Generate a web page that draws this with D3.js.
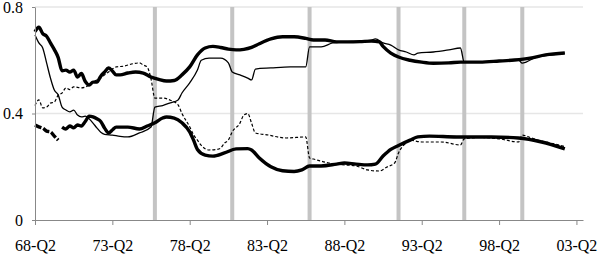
<!DOCTYPE html>
<html>
<head>
<meta charset="utf-8">
<script src="https://cdn.jsdelivr.net/npm/d3@7"></script>
<style>
  body { margin: 0; background: #fff; }
  svg { display: block; }
  .axis path, .axis line { stroke: #888; }
</style>
</head>
<body>
<div class="graphic"></div>
<script>
// quarter index counted from 68-Q2
var tickQuarters = [0, 20, 40, 60, 80, 100, 120, 140];
var tickLabels = ["68-Q2", "73-Q2", "78-Q2", "83-Q2", "88-Q2", "93-Q2", "98-Q2", "03-Q2"];
var yTicks = [0, 0.4, 0.8];
var breakQuarters = [31, 51, 71, 94, 111, 126];

// thick solid, upper
var thickUpper = [[0,.707],[1,.724],[2,.700],[3,.690],[4,.665],[5,.640],[6,.610],[7,.560],[8,.563],[9,.556],
  [10,.563],[11,.537],[12,.550],[13,.520],[14,.507],[15,.518],[16,.518],[17,.540],[18,.556],[19,.571],[20,.560],
  [21,.545],[22,.545],[24,.552],[26,.556],[28,.552],[30,.537],[32,.528],[34,.522],[36,.524],[38,.545],[40,.575],
  [42,.620],[44,.646],[46,.652],[48,.648],[50,.642],[52,.639],[54,.641],[56,.648],[58,.662],[61,.680],[64,.688],
  [67,.688],[70,.682],[72,.676],[75,.676],[78,.669],[81,.669],[84,.670],[87,.672],[89,.669],[90,.652],[92,.627],
  [94,.612],[97,.600],[100,.593],[103,.589],[107,.590],[110,.593],[115,.593],[120,.597],[124,.601],[128,.608],
  [132,.620],[137,.627]];

// thin solid, upper (per-period)
var thinSolid = [[0,.695],[1,.665],[2,.646],[3,.590],[4,.533],[5,.488],[6,.470],[7,.424],[8,.413],[9,.406],
  [10,.413],[11,.394],[12,.387],[13,.390],[14,.380],[15,.364],[16,.346],[17,.330],[18,.322],[20,.319],[22,.314],
  [24,.312],[27,.327],[30,.349],[31,.424],[33,.430],[35,.440],[37,.451],[38,.477],[40,.515],[42,.563],[43,.600],
  [45,.608],[48,.608],[50,.590],[51,.556],[53,.545],[55,.533],[56,.526],[57,.567],[61,.571],[66,.575],[70,.575],
  [71,.650],[74,.650],[77,.665],[80,.669],[84,.672],[87,.676],[88,.680],[90,.665],[92,.657],[94,.639],[96,.631],
  [98,.620],[99,.627],[103,.631],[107,.639],[110,.646],[111,.593],[115,.593],[120,.597],[125,.601],[126,.589],
  [127,.593],[129,.608],[132,.617],[137,.627]];

// thin dashed, lower (per-period)
var thinDashed = [[0,.430],[1,.451],[2,.421],[3,.424],[4,.439],[5,.443],[6,.469],[7,.477],[8,.496],[9,.490],
  [10,.500],[12,.496],[14,.507],[15,.518],[16,.526],[17,.533],[18,.545],[19,.556],[20,.567],[21,.575],[23,.578],
  [25,.586],[27,.590],[28,.582],[29,.575],[30,.530],[31,.458],[33,.458],[35,.450],[37,.432],[38,.400],[40,.350],
  [41,.320],[42,.300],[43,.280],[45,.263],[47,.265],[48,.270],[49,.289],[50,.300],[51,.331],[53,.364],[54,.394],
  [55,.400],[56,.364],[57,.327],[60,.320],[65,.308],[70,.312],[71,.233],[72,.229],[76,.214],[80,.207],[83,.203],
  [86,.188],[89,.184],[91,.199],[93,.214],[94,.252],[96,.290],[97,.300],[100,.293],[105,.293],[110,.282],
  [111,.305],[115,.310],[120,.305],[125,.293],[126,.319],[128,.310],[130,.300],[133,.290],[137,.276]];

// thick lower, early part drawn dashed
var thickLowerEarly = [[0,.357],[1,.350],[2,.345],[3,.334],[4,.331],[5,.315],[6,.300]];
var thickLower = [[7,.349],[8,.342],[9,.353],[10,.346],[11,.357],[12,.353],[13,.370],[14,.390],[15,.387],
  [16,.380],[17,.370],[18,.345],[19,.327],[20,.338],[21,.349],[24,.349],[27,.342],[29,.353],[31,.365],[33,.383],
  [34,.387],[36,.383],[38,.365],[40,.331],[41,.300],[42,.265],[44,.244],[46,.240],[49,.252],[52,.267],[55,.268],
  [56,.263],[58,.233],[61,.200],[64,.185],[67,.182],[69,.188],[71,.203],[74,.203],[78,.210],[80,.214],[83,.210],
  [86,.207],[88,.210],[90,.240],[92,.265],[94,.280],[97,.300],[99,.312],[102,.315],[109,.312],[118,.312],
  [125,.308],[131,.293],[137,.267]];

var serif = "Liberation Serif";

var render = function() {
  var width = 598, height = 267;
  var svg = d3.select(".graphic").append("svg").attr("width", width).attr("height", height);

  var x = d3.scaleLinear().domain([0, 141.7]).range([35, 583]);
  var y = d3.scaleLinear().domain([0, 0.8]).range([220, 7]);

  // gridlines
  svg.append("g").selectAll("line")
    .data(yTicks.filter(function(d) { return d > 0; }))
    .enter().append("line")
    .attr("x1", x(0)).attr("x2", x(141.7))
    .attr("y1", function(d) { return y(d); }).attr("y2", function(d) { return y(d); })
    .attr("stroke", "#e6e6e6").attr("stroke-width", 1.5);

  // period breaks
  svg.append("g").selectAll("line")
    .data(breakQuarters)
    .enter().append("line")
    .attr("x1", function(d) { return x(d); }).attr("x2", function(d) { return x(d); })
    .attr("y1", y(0.8)).attr("y2", y(0))
    .attr("stroke", "#c4c4c4").attr("stroke-width", 4);

  var line = d3.line()
    .x(function(d) { return x(d[0]); })
    .y(function(d) { return y(d[1]); })
    .curve(d3.curveMonotoneX);

  var series = [
    { data: thinDashed, w: 1.2, dash: "3,2" },
    { data: thinSolid, w: 1.3, dash: null },
    { data: thickLowerEarly, w: 3.4, dash: "7,2" },
    { data: thickLower, w: 3.4, dash: null },
    { data: thickUpper, w: 3.4, dash: null }
  ];

  svg.append("g").selectAll("path")
    .data(series)
    .enter().append("path")
    .attr("d", function(d) { return line(d.data); })
    .attr("fill", "none")
    .attr("stroke", "#000")
    .attr("stroke-width", function(d) { return d.w; })
    .attr("stroke-dasharray", function(d) { return d.dash; })
    .attr("stroke-linejoin", "round");

  var xAxis = svg.append("g").attr("class", "axis")
    .attr("transform", "translate(0," + y(0) + ")")
    .call(d3.axisBottom(x).tickValues(tickQuarters).tickSize(5).tickSizeOuter(0)
      .tickFormat(function(d, i) { return tickLabels[i]; }));
  xAxis.attr("font-family", serif).attr("font-size", 16);
  xAxis.selectAll("text").attr("fill", "#000").attr("dy", "1.45em");

  var yAxis = svg.append("g").attr("class", "axis")
    .attr("transform", "translate(" + x(0) + ",0)")
    .call(d3.axisLeft(y).tickValues(yTicks).tickSize(3).tickSizeOuter(0)
      .tickFormat(function(d) { return d === 0 ? "0" : d3.format(".1f")(d); }));
  yAxis.attr("font-family", serif).attr("font-size", 16);
  yAxis.selectAll("text").attr("fill", "#000").attr("x", -12);
};

render();
</script>
</body>
</html>
